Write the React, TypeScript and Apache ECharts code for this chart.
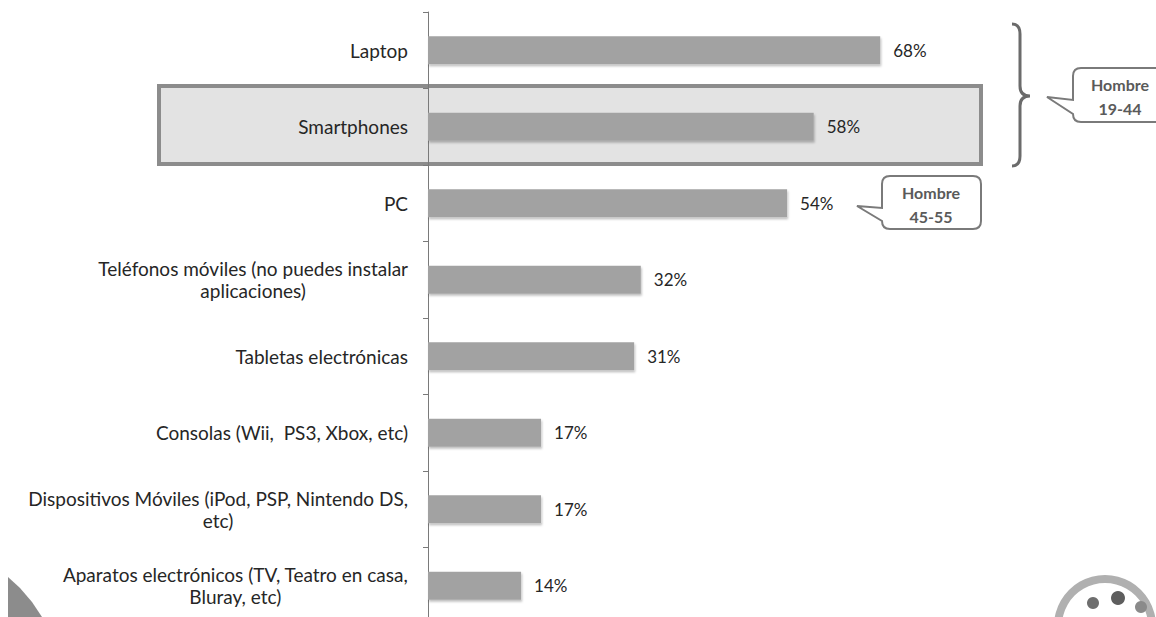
import React, { useEffect, useRef } from "react";
import * as echarts from "echarts";

const categories = [
  "Laptop",
  "Smartphones",
  "PC",
  "Teléfonos móviles (no puedes instalar\naplicaciones)",
  "Tabletas electrónicas",
  "Consolas (Wii,  PS3, Xbox, etc)",
  "Dispositivos Móviles (iPod, PSP, Nintendo DS,\netc)",
  "Aparatos electrónicos (TV, Teatro en casa,\nBluray, etc)",
];
const values = [68, 58, 54, 32, 31, 17, 17, 14];
const callout1Lines = ["Hombre", "19-44"];
const callout2Lines = ["Hombre", "45-55"];

const FONT = "Lato, 'Open Sans', sans-serif";

echarts.graphic.registerShape(
  "brace",
  echarts.graphic.extendPath(
    "M0,0 Q8,0 8,10 L8,62 Q8,72 18,72 Q8,72 8,82 L8,132 Q8,142 0,142",
    {}
  )
);
echarts.graphic.registerShape(
  "callout1",
  echarts.graphic.extendPath(
    "M1081,68 L1162,68 Q1170,68 1170,76 L1170,114 Q1170,122 1162,122 L1081,122 Q1073,122 1073,114 L1047,97 L1073,100 L1073,76 Q1073,68 1081,68 Z",
    {}
  )
);
echarts.graphic.registerShape(
  "callout2",
  echarts.graphic.extendPath(
    "M890,176 L973,176 Q981,176 981,184 L981,221 Q981,229 973,229 L890,229 Q882,229 882,221 L857,206 L882,208 L882,184 Q882,176 890,176 Z",
    {}
  )
);

export default function App() {
  const ref = useRef<HTMLDivElement>(null);
  useEffect(() => {
    const chart = echarts.init(ref.current!, null, { renderer: "svg" });
    chart.setOption({
      animation: false,
      backgroundColor: "#ffffff",
      grid: {
        left: 428,
        top: 12,
        width: 665,
        height: 612,
        containLabel: false,
        outerBoundsMode: "none",
      },
      xAxis: { type: "value", min: 0, max: 100, show: false },
      yAxis: {
        type: "category",
        inverse: true,
        data: categories,
        axisLine: { show: true, lineStyle: { color: "#7a7a7a", width: 1 } },
        axisTick: { show: true, length: 5, lineStyle: { color: "#7a7a7a" } },
        axisLabel: {
          margin: 20,
          color: "#262626",
          fontFamily: FONT,
          fontSize: 19,
          lineHeight: 22,
          formatter: (v: string) => `{c|${v}}`,
          rich: {
            c: {
              align: "center",
              fontFamily: FONT,
              fontSize: 19,
              lineHeight: 22,
              color: "#262626",
            },
          },
        },
        splitLine: { show: false },
      },
      series: [
        {
          type: "bar",
          data: values,
          barWidth: 28,
          itemStyle: {
            color: "#a2a2a2",
            shadowColor: "rgba(0,0,0,0.25)",
            shadowOffsetX: 1,
            shadowOffsetY: 2,
            shadowBlur: 2,
          },
          label: {
            show: true,
            position: "right",
            distance: 13,
            formatter: "{c}%",
            color: "#262626",
            fontFamily: FONT,
            fontSize: 17,
          },
        },
      ],
      graphic: {
        elements: [
          {
            type: "rect",
            z: -5,
            shape: { x: 159, y: 86, width: 822, height: 78 },
            style: { fill: "#e3e3e3", stroke: "#8c8c8c", lineWidth: 4 },
          },
          {
            type: "brace",
            x: 1012,
            y: 24,
            z: 10,
            style: { fill: "none", stroke: "#6b6b6b", lineWidth: 3 },
          },
          {
            type: "callout1",
            z: 10,
            style: { fill: "#ffffff", stroke: "#7a7a7a", lineWidth: 2 },
          },
          {
            type: "text",
            z: 11,
            x: 1120,
            y: 96,
            style: {
              text: callout1Lines.join("\n"),
              fill: "#5a5a5a",
              font: `bold 16px ${FONT}`,
              lineHeight: 24,
              align: "center",
              verticalAlign: "middle",
            },
          },
          {
            type: "callout2",
            z: 10,
            style: { fill: "#ffffff", stroke: "#7a7a7a", lineWidth: 2 },
          },
          {
            type: "text",
            z: 11,
            x: 931,
            y: 204,
            style: {
              text: callout2Lines.join("\n"),
              fill: "#5a5a5a",
              font: `bold 16px ${FONT}`,
              lineHeight: 24,
              align: "center",
              verticalAlign: "middle",
            },
          },
          {
            type: "polygon",
            z: 1,
            shape: {
              points: [
                [8, 577],
                [20, 588],
                [32, 602],
                [42, 617],
                [8, 617],
              ],
            },
            style: { fill: "#8c8c8c" },
          },
          {
            type: "ring",
            z: 1,
            shape: { cx: 1105, cy: 626, r: 51, r0: 43 },
            style: { fill: "#b0b0b0" },
          },
          {
            type: "circle",
            z: 2,
            shape: { cx: 1093, cy: 603, r: 6 },
            style: { fill: "#6e6e6e" },
          },
          {
            type: "circle",
            z: 2,
            shape: { cx: 1118, cy: 598, r: 7 },
            style: { fill: "#5e5e5e" },
          },
          {
            type: "circle",
            z: 2,
            shape: { cx: 1141, cy: 607, r: 6 },
            style: { fill: "#8a8a8a" },
          },
        ],
      },
    });
    return () => chart.dispose();
  }, []);
  return (
    <div
      ref={ref}
      style={{ position: "fixed", left: 0, top: 0, width: 1156, height: 617 }}
    />
  );
}
